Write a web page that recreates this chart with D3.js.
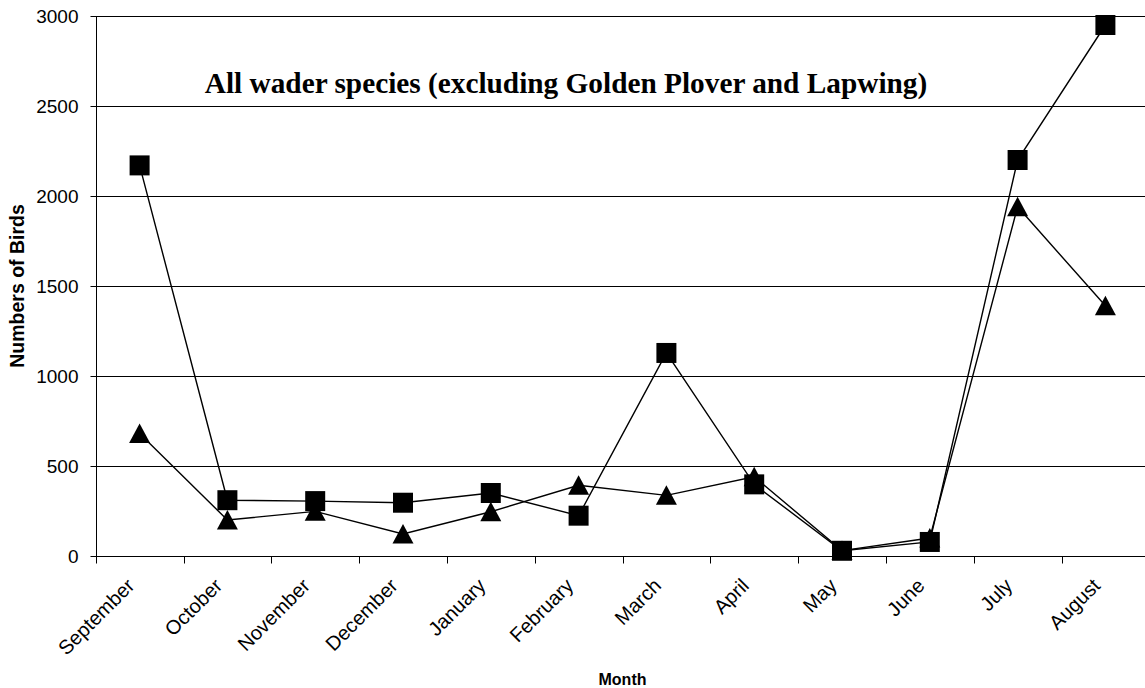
<!DOCTYPE html>
<html>
<head>
<meta charset="utf-8">
<script src="https://cdn.jsdelivr.net/npm/d3@7"></script>
<style>
  html, body { margin: 0; padding: 0; background: #fff; overflow: hidden; }
  svg { display: block; }
</style>
</head>
<body>
<svg id="chart" width="1145" height="688"></svg>
<script>
// Monthly wader counts, September to August
const months = ["September", "October", "November", "December", "January", "February",
                "March", "April", "May", "June", "July", "August"];
const squareCounts   = [2170, 310, 305, 296, 350, 224, 1128, 398, 29, 78, 2200, 2950];
const triangleCounts = [680, 200, 248, 122, 246, 393, 337, 440, 30, 100, 1940, 1390];
const yTicks = [0, 500, 1000, 1500, 2000, 2500, 3000];

const titleText = "All wader species (excluding Golden Plover and Lapwing)";
const yTitle = "Numbers of Birds";
const xTitle = "Month";

const svg = d3.select("#chart");
const plotLeft = 95.7, plotRight = 1149.3, plotTop = 16, plotBottom = 556;

const x = d3.scaleBand().domain(months).range([plotLeft, plotRight]).paddingInner(0).paddingOuter(0);
const y = d3.scaleLinear().domain([0, 3000]).range([plotBottom, plotTop]);

// horizontal gridlines
svg.append("g")
  .selectAll("line")
  .data(yTicks.filter(d => d > 0))
  .join("line")
  .attr("x1", plotLeft).attr("x2", plotRight)
  .attr("y1", d => Math.round(y(d)) + 0.5).attr("y2", d => Math.round(y(d)) + 0.5)
  .attr("stroke", "#000").attr("stroke-width", 1);

// y axis
const yAxis = svg.append("g")
  .attr("transform", `translate(${Math.round(plotLeft) + 0.5},0)`)
  .call(d3.axisLeft(y).tickValues(yTicks).tickSize(6).tickPadding(12).tickFormat(d3.format("d")));
yAxis.select(".domain").attr("stroke", "#000").attr("d", `M0,${plotTop}V${plotBottom}`);
yAxis.selectAll(".tick line").attr("stroke", "#000");
yAxis.selectAll(".tick text")
  .attr("font-family", "Arial, 'Liberation Sans', sans-serif")
  .attr("font-size", 19).attr("fill", "#000");

// x axis with ticks at category boundaries
const boundaries = months.map(m => x(m));
const xAxisG = svg.append("g").attr("transform", `translate(0,${Math.round(plotBottom) + 0.5})`);
xAxisG.append("line").attr("x1", plotLeft).attr("x2", plotRight).attr("stroke", "#000");
xAxisG.selectAll("line.tk")
  .data(boundaries)
  .join("line").attr("class", "tk")
  .attr("x1", d => Math.round(d) + 0.5).attr("x2", d => Math.round(d) + 0.5)
  .attr("y1", 0).attr("y2", 7).attr("stroke", "#000");

// rotated month labels
svg.append("g")
  .selectAll("text")
  .data(months)
  .join("text")
  .attr("transform", d => `translate(${x(d) + x.bandwidth() / 2 - 4},${plotBottom + 31}) rotate(-45)`)
  .attr("text-anchor", "end")
  .attr("font-family", "Arial, 'Liberation Sans', sans-serif")
  .attr("font-size", 20)
  .attr("fill", "#000")
  .text(d => d);

// axis titles
svg.append("text")
  .attr("transform", `translate(24,${(plotTop + plotBottom) / 2}) rotate(-90)`)
  .attr("text-anchor", "middle")
  .attr("font-family", "Arial, 'Liberation Sans', sans-serif")
  .attr("font-weight", "bold").attr("font-size", 19.5)
  .text(yTitle);

svg.append("text")
  .attr("x", (plotLeft + plotRight) / 2).attr("y", 685)
  .attr("text-anchor", "middle")
  .attr("font-family", "Arial, 'Liberation Sans', sans-serif")
  .attr("font-weight", "bold").attr("font-size", 16)
  .text(xTitle);

// chart title
svg.append("text")
  .attr("x", 566).attr("y", 93)
  .attr("text-anchor", "middle")
  .attr("font-family", "'Times New Roman', 'Liberation Serif', serif")
  .attr("font-weight", "bold").attr("font-size", 29.3)
  .text(titleText);

// series lines and markers
const cx = d => x(d) + x.bandwidth() / 2;
const line = d3.line().x(d => cx(d.m)).y(d => y(d.v));

function drawSeries(values, shape) {
  const pts = months.map((m, i) => ({ m, v: values[i] }));
  const g = svg.append("g");
  g.append("path").datum(pts)
    .attr("d", line).attr("fill", "none")
    .attr("stroke", "#000").attr("stroke-width", 1.4);
  const s = 10;
  g.selectAll("path.mk")
    .data(pts)
    .join("path").attr("class", "mk")
    .attr("d", d => {
      const px = cx(d.m), py = y(d.v);
      if (shape === "square") {
        return `M${px - s},${py - s}H${px + s}V${py + s}H${px - s}Z`;
      }
      return `M${px},${py - 10}L${px + 10.5},${py + 9.5}L${px - 10.5},${py + 9.5}Z`;
    })
    .attr("fill", "#000");
}

drawSeries(triangleCounts, "triangle");
drawSeries(squareCounts, "square");
</script>
</body>
</html>
